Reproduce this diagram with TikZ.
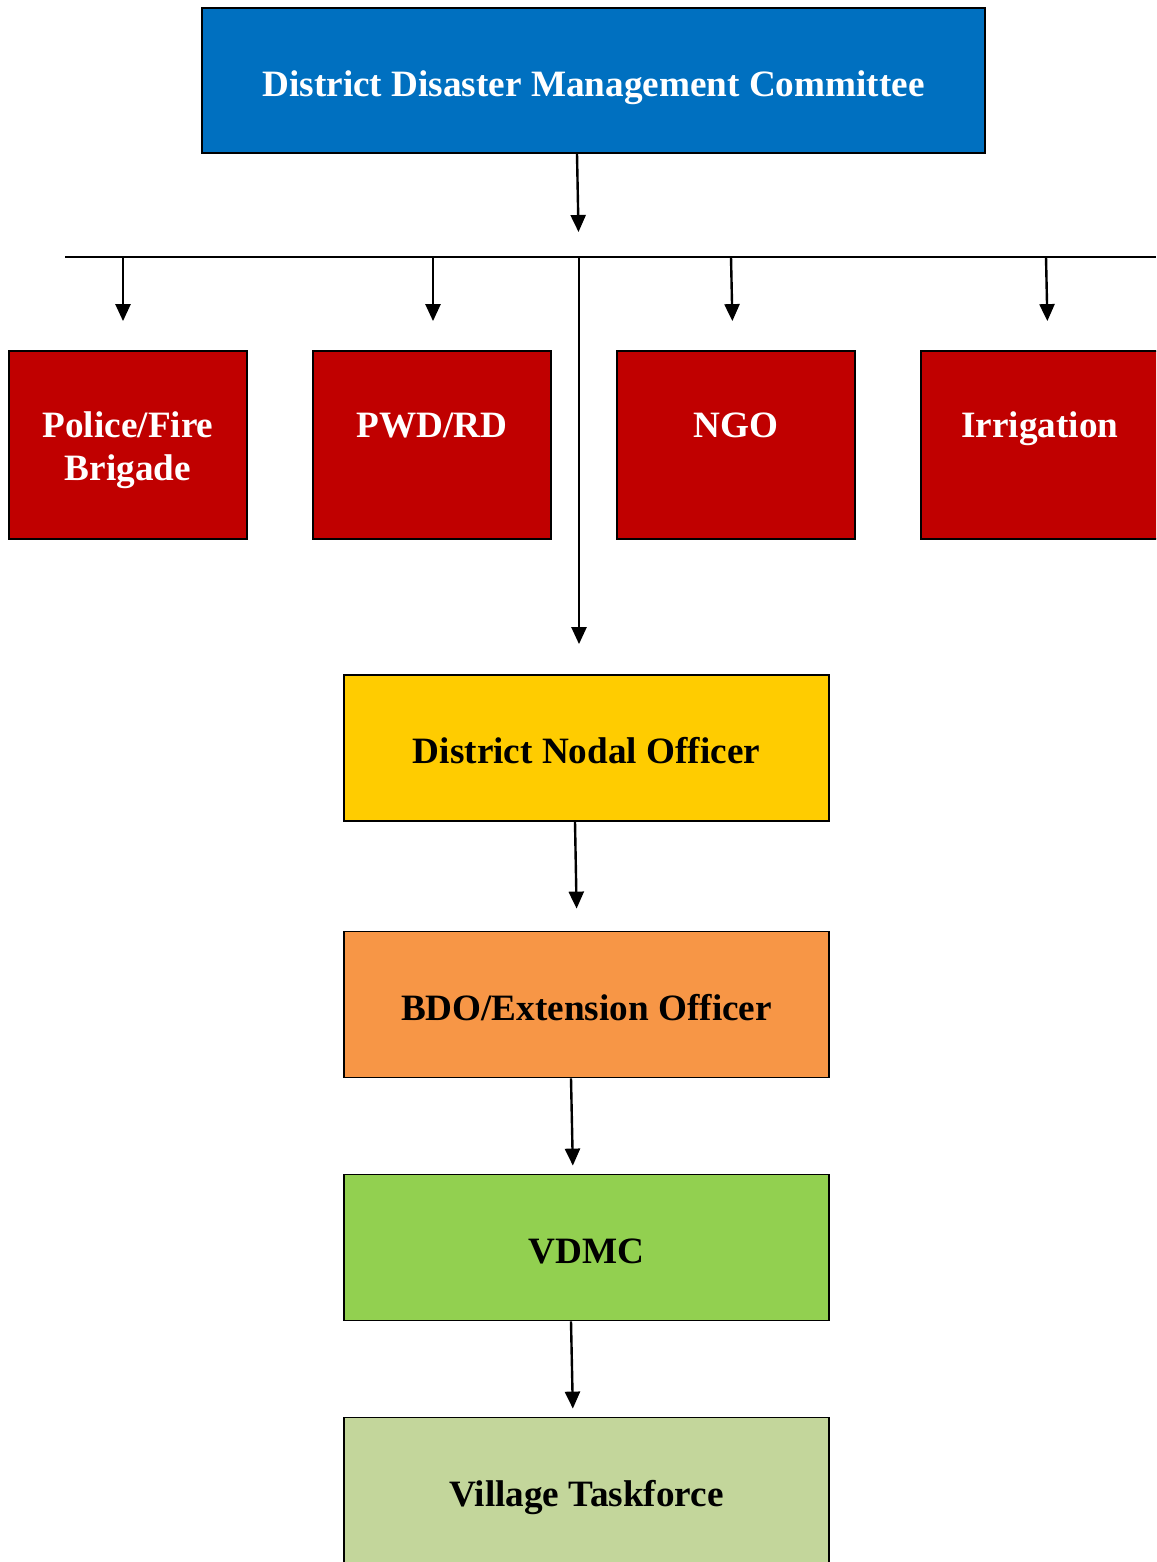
\documentclass[tikz,border=0pt]{standalone}
\usepackage{fontspec}
\setmainfont{Liberation Serif}
\usetikzlibrary{arrows.meta}

\definecolor{ddmcblue}{HTML}{0070C0}
\definecolor{deptred}{HTML}{C00000}
\definecolor{nodalyellow}{HTML}{FFCC00}
\definecolor{bdoorange}{HTML}{F79646}
\definecolor{vdmcgreen}{HTML}{92D050}
\definecolor{taskgreen}{HTML}{C3D69B}

\begin{document}
\begin{tikzpicture}[x=0.5pt,y=-0.5pt,
  box/.style={draw=black,line width=0.9pt,rectangle,inner sep=0pt},
  topbox/.style={box,fill=ddmcblue,minimum width=391.5pt,minimum height=72.5pt},
  deptbox/.style={box,fill=deptred,minimum width=119pt,minimum height=94pt},
  chainbox/.style={box,minimum width=242.5pt,minimum height=73pt},
  boxtext/.style={inner sep=0pt,anchor=base,font=\bfseries\fontsize{18.6}{21.5}\selectfont},
  arr/.style={line width=1.2pt,-{Triangle[width=7.5pt,length=8.5pt]}},
  barline/.style={line width=1pt}
]
\useasboundingbox (0,0) rectangle (1156,1562);
\clip (0,0) rectangle (1156,1562);

% top committee
\node[topbox] (ddmc) at (593.5,80.5) {};
\node[boxtext,text=white] (ddmcT) at ([yshift=-8.25pt]ddmc.center) {District Disaster Management Committee};

% departments
\node[deptbox] (police) at (128,445) {};
\node[deptbox] (pwd) at (432,445) {};
\node[deptbox] (ngo) at (736,445) {};
\node[deptbox] (irr) at (1040,445) {};
\node[boxtext,text=white] (policeT) at ([yshift=-43.5pt]police.north)
  {\begin{tabular}[t]{@{}c@{}}Police/Fire\\Brigade\end{tabular}};
\node[boxtext,text=white] (pwdT) at ([yshift=-43.5pt]pwd.north) {PWD/RD};
\node[boxtext,text=white] (ngoT) at ([yshift=-43.5pt]ngo.north) {NGO};
\node[boxtext,text=white] (irrT) at ([yshift=-43.5pt]irr.north) {Irrigation};

% chain of command
\node[chainbox,fill=nodalyellow] (dno) at (586.5,748) {};
\node[chainbox,fill=bdoorange] (bdo) at (586.5,1004.5) {};
\node[chainbox,fill=vdmcgreen] (vdmc) at (586.5,1247.5) {};
\node[chainbox,fill=taskgreen] (vt) at (586.5,1490.5) {};
\node[boxtext] (dnoT) at ([yshift=-7.5pt]dno.center) {District Nodal Officer};
\node[boxtext] (bdoT) at ([yshift=-7.75pt]bdo.center) {BDO/Extension Officer};
\node[boxtext] (vdmcT) at ([yshift=-7.75pt]vdmc.center) {VDMC};
\node[boxtext] (vtT) at ([yshift=-7.75pt]vt.center) {Village Taskforce};

% distribution bar and its junctions
\coordinate (barL) at (65,257);
\coordinate (barR) at (1156,257);
\coordinate (j1) at (123,257);
\coordinate (j2) at (433,257);
\coordinate (j3) at (731,257);
\coordinate (j4) at (1046,257);
\coordinate (jc) at (579,257);
\draw[barline] (barL) -- (barR);

% connectors
\draw[arr,shorten >=12.5pt] ([xshift=-8.25pt]ddmc.south) -- (jc);
\draw[arr,shorten >=14.5pt] (j1) -- (j1 |- police.north);
\draw[arr,shorten >=14.5pt] (j2) -- (j2 |- pwd.north);
\draw[arr,shorten >=14.5pt] (j3) -- ([xshift=1pt]j3 |- ngo.north);
\draw[arr,shorten >=14.5pt] (j4) -- ([xshift=1pt]j4 |- irr.north);
\draw[arr,shorten >=15pt] (jc) -- (jc |- dno.north);
\draw[arr,shorten >=11pt] ([xshift=-5.75pt]dno.south) -- ([xshift=-4.75pt]bdo.north);
\draw[arr,shorten >=4pt] ([xshift=-7.75pt]bdo.south) -- ([xshift=-6.75pt]vdmc.north);
\draw[arr,shorten >=4pt] ([xshift=-7.75pt]vdmc.south) -- ([xshift=-6.75pt]vt.north);
\end{tikzpicture}
\end{document}
